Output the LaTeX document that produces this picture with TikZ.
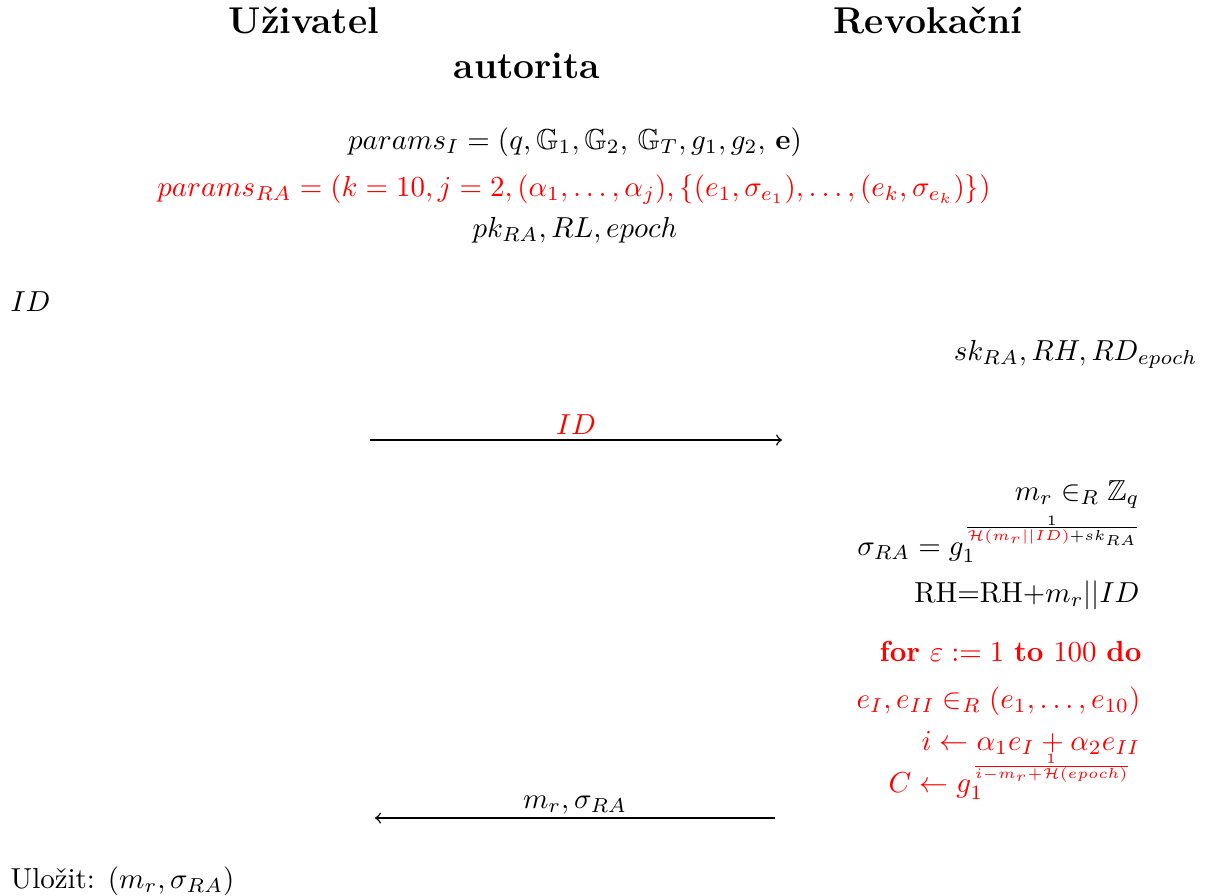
\documentclass[tikz,border=0pt]{standalone}
\usepackage{amsmath,amssymb}
\usepackage{tikz}
\usepackage{xcolor}
\usetikzlibrary{arrows,positioning,calc}

\begin{document}
\begin{tikzpicture}[x=0.34554pt, y=-0.34554pt,
        every node/.style={inner sep=0pt},
        head/.style={font=\fontsize{12.9}{15}\selectfont\bfseries, anchor=base},
        hl/.style={text=red},
        msg/.style={->, >=to, line width=0.5pt}]
            \useasboundingbox (0,0) rectangle (1216,895);
            % parties
            \node[head] (user) at (304,33) {Uživatel};
            \node[head] (revok) at (928,33) {Revokační};
            \node[head] (autor) at (527,78) {autorita};
            % public parameters
            \node[anchor=base] (parI) at (575,149) {$params_I = (q, \mathbb{G}_1, \mathbb{G}_2,\, \mathbb{G}_T, g_1, g_2,\, \mathbf{e})$};
            \node[hl, anchor=base] (parRA) at (574,196) {$params_{RA} = (k=10, j=2, (\alpha_1,\dots,\alpha_j), \{(e_1,\sigma_{e_1}),\dots,(e_k,\sigma_{e_k})\})$};
            \node[anchor=base] (pub) at (575,237) {$pk_{RA}, RL, epoch$};
            % private inputs
            \node[anchor=base west] (uid) at (10,311) {$ID$};
            \node[anchor=base east] (rasec) at (1198,360) {$sk_{RA}, RH, RD_{epoch}$};
            % first message
            \coordinate (m1s) at (370,440);
            \coordinate (m1e) at (782,440);
            \node[hl, anchor=base] (m1lab) at (576,434) {$ID$};
            \draw[msg] (m1s) -- (m1e);
            % computation of the authority
            \node[anchor=base east] (c1) at (1140,500) {$m_r \in_R \mathbb{Z}_q$};
            \node[anchor=base east] (c2) at (1142,555) {$\sigma_{RA} = g_1^{\frac{1}{\textcolor{red}{\mathcal{H}(m_r||ID)}+sk_{RA}}}$};
            \node[anchor=base east] (c3) at (1140,602) {RH=RH+$m_r||ID$};
            \node[hl, anchor=base east] (c4) at (1142,661) {\textbf{for} $\varepsilon := 1$ \textbf{to} $100$ \textbf{do}};
            \node[hl, anchor=base east] (c5) at (1141,708) {$e_I, e_{II} \in_R (e_1,\dots,e_{10})$};
            \node[hl, anchor=base east] (c6) at (1141,750) {$i \leftarrow \alpha_1 e_I + \alpha_2 e_{II}$};
            \node[hl, anchor=base east] (c7) at (1133,792) {$C \leftarrow g_1^{\frac{1}{i-m_r+\mathcal{H}(epoch)}}$};
            % second message
            \coordinate (m2s) at (775,818);
            \coordinate (m2e) at (375,818);
            \node[anchor=base] (m2lab) at (575,808) {$m_r, \sigma_{RA}$};
            \draw[msg] (m2s) -- (m2e);
            % result
            \node[anchor=base west] (store) at (10,888) {Uložit: $(m_r, \sigma_{RA})$};
        \end{tikzpicture}
\end{document}
